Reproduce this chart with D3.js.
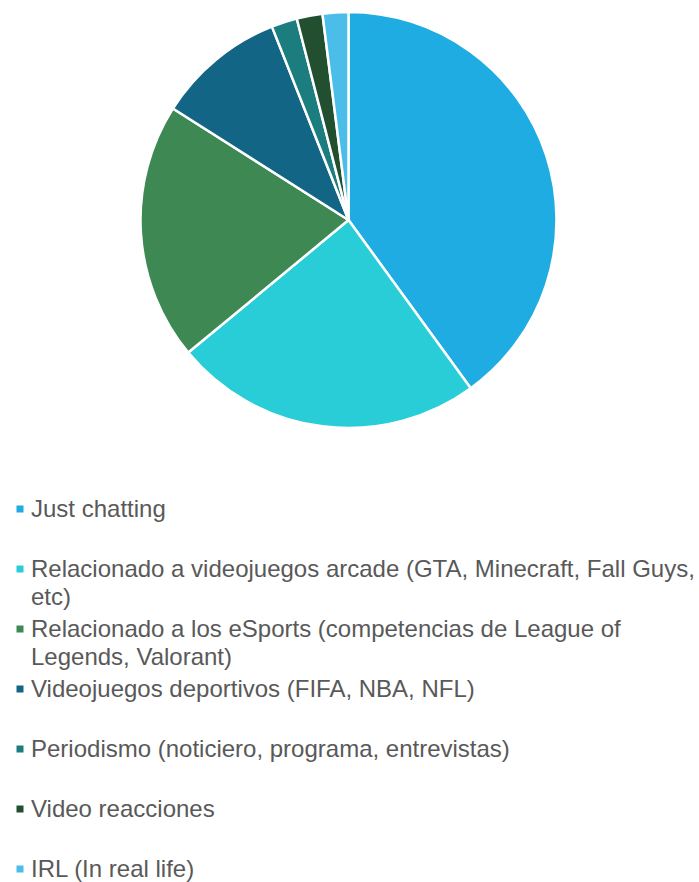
<!DOCTYPE html>
<html>
<head>
<meta charset="utf-8">
<script src="https://cdn.jsdelivr.net/npm/d3@7"></script>
<style>
  html, body { margin: 0; padding: 0; background: #ffffff; }
  svg { display: block; }
</style>
</head>
<body>
<svg id="chart" width="699" height="882"></svg>
<script>
// Categories, shares (%) and slice colours
const categories = [
  "Just chatting",
  "Relacionado a videojuegos arcade (GTA, Minecraft, Fall Guys, etc)",
  "Relacionado a los eSports (competencias de League of Legends, Valorant)",
  "Videojuegos deportivos (FIFA, NBA, NFL)",
  "Periodismo (noticiero, programa, entrevistas)",
  "Video reacciones",
  "IRL (In real life)"
];
const values = [40, 24, 20, 10, 2, 2, 2];
const colors = ["#1FACE3", "#29CDD7", "#3E8853", "#126585", "#1C7D7E", "#234F31", "#4ABEE9"];

const svg = d3.select("#chart");
const W = 699;

// Pie geometry
const cx = 348.5, cy = 220, radius = 208;

const pie = d3.pie().sort(null).value(d => d.value);
const arc = d3.arc().innerRadius(0).outerRadius(radius);

const data = categories.map((c, i) => ({ name: c, value: values[i], color: colors[i] }));

const g = svg.append("g").attr("transform", `translate(${cx},${cy})`);
g.selectAll("path")
  .data(pie(data))
  .join("path")
  .attr("d", arc)
  .attr("fill", d => d.data.color)
  .attr("stroke", "#ffffff")
  .attr("stroke-width", 2.5)
  .attr("stroke-linejoin", "round");

// Legend: one entry per slot, long labels wrap onto a second line
const legendTop = 509;      // vertical centre of the first entry's first line
const slot = 60;            // spacing between entries
const lineH = 27.5;         // spacing of wrapped lines
const textX = 31, markX = 16.5, markSize = 7;
const maxW = W - textX - 2;

const legend = svg.append("g")
  .attr("font-family", "'Liberation Sans', Arial, Helvetica, sans-serif")
  .attr("font-size", 24)
  .attr("fill", "#595959");

data.forEach((d, i) => {
  const yc = legendTop + i * slot;
  legend.append("rect")
    .attr("x", markX).attr("y", yc - markSize / 2)
    .attr("width", markSize).attr("height", markSize)
    .attr("fill", d.color);

  const text = legend.append("text")
    .attr("x", textX)
    .attr("y", yc)
    .attr("dy", "0.35em");

  // greedy word wrap
  const words = d.name.split(" ");
  let line = [];
  let lineNo = 0;
  let tspan = text.append("tspan").attr("x", textX).attr("y", yc).attr("dy", "0.35em");
  words.forEach(w => {
    line.push(w);
    tspan.text(line.join(" "));
    if (tspan.node().getComputedTextLength() > maxW && line.length > 1) {
      line.pop();
      tspan.text(line.join(" "));
      line = [w];
      lineNo += 1;
      tspan = text.append("tspan").attr("x", textX).attr("y", yc + lineNo * lineH)
        .attr("dy", "0.35em").text(w);
    }
  });
});
</script>
</body>
</html>
